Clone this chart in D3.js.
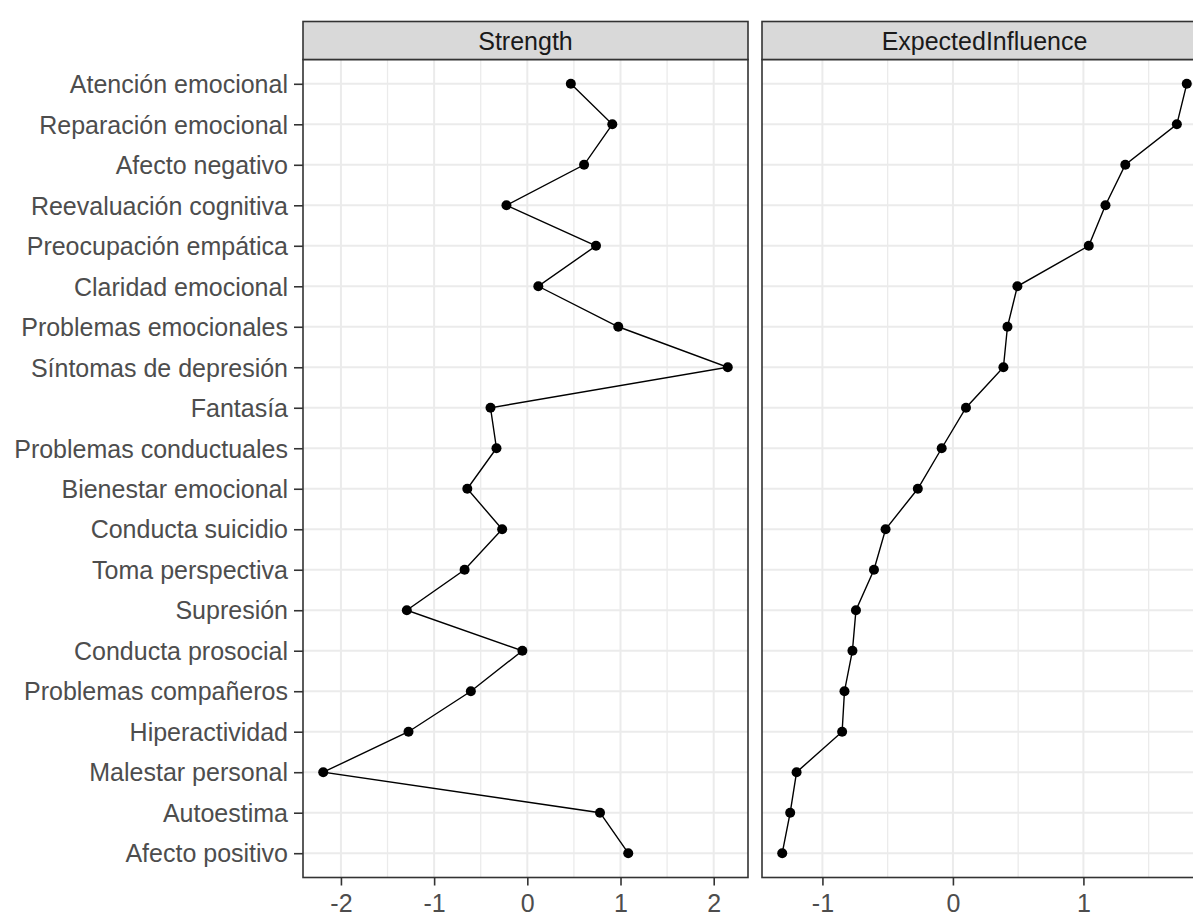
<!DOCTYPE html>
<html>
<head>
<meta charset="utf-8">
<script src="https://cdn.jsdelivr.net/npm/d3@7"></script>
<style>
  html, body { margin: 0; padding: 0; background: #fff; }
  svg { display: block; }
</style>
</head>
<body>
<svg id="chart" width="1193" height="916"></svg>
<script>
// ---- data ----
const categories = [
  "Atención emocional", "Reparación emocional", "Afecto negativo", "Reevaluación cognitiva",
  "Preocupación empática", "Claridad emocional", "Problemas emocionales", "Síntomas de depresión",
  "Fantasía", "Problemas conductuales", "Bienestar emocional", "Conducta suicidio",
  "Toma perspectiva", "Supresión", "Conducta prosocial", "Problemas compañeros",
  "Hiperactividad", "Malestar personal", "Autoestima", "Afecto positivo"
];
const strengthValues = [
  0.467, 0.912, 0.609, -0.224, 0.737, 0.118, 0.976, 2.151,
  -0.395, -0.331, -0.644, -0.270, -0.673, -1.293, -0.053, -0.606,
  -1.275, -2.190, 0.780, 1.083
];
const expectedInfluenceValues = [
  1.792, 1.716, 1.321, 1.169, 1.041, 0.494, 0.418, 0.387,
  0.100, -0.086, -0.269, -0.516, -0.605, -0.743, -0.770, -0.831,
  -0.849, -1.198, -1.247, -1.308
];
const panelNames = ["Strength", "ExpectedInfluence"];
const panelSeries = [strengthValues, expectedInfluenceValues];

// ---- layout ----
const svg = d3.select("#chart");
const font = "'Liberation Sans', Arial, sans-serif";
const fontSize = 25;
const panelTop = 59.5, panelBottom = 877.5;
const stripTop = 21.5;
const panelX = [303, 762];
const panelW = 445;

const y = d3.scalePoint().domain(categories).range([panelTop, panelBottom]).padding(0.6);

panelNames.forEach((name, pi) => {
  const vals = panelSeries[pi];
  const lo = d3.min(vals), hi = d3.max(vals);
  const ex = (hi - lo) * 0.05;
  const x = d3.scaleLinear().domain([lo - ex, hi + ex]).range([panelX[pi], panelX[pi] + panelW]);
  const [d0, d1] = x.domain();
  const majors = d3.range(Math.ceil(d0), Math.floor(d1) + 1);
  const minors = d3.range(Math.ceil(d0 * 2), Math.floor(d1 * 2) + 1).map(v => v / 2).filter(v => !Number.isInteger(v));

  const g = svg.append("g");
  g.append("rect").attr("x", panelX[pi]).attr("y", panelTop).attr("width", panelW)
    .attr("height", panelBottom - panelTop).attr("fill", "#fff");
  g.selectAll(".minor").data(minors).enter().append("line")
    .attr("x1", d => x(d)).attr("x2", d => x(d)).attr("y1", panelTop).attr("y2", panelBottom)
    .attr("stroke", "#EBEBEB").attr("stroke-width", 1.3);
  g.selectAll(".majorx").data(majors).enter().append("line")
    .attr("x1", d => x(d)).attr("x2", d => x(d)).attr("y1", panelTop).attr("y2", panelBottom)
    .attr("stroke", "#EBEBEB").attr("stroke-width", 2);
  g.selectAll(".majory").data(categories).enter().append("line")
    .attr("x1", panelX[pi]).attr("x2", panelX[pi] + panelW).attr("y1", d => y(d)).attr("y2", d => y(d))
    .attr("stroke", "#EBEBEB").attr("stroke-width", 2);

  const pts = categories.map((c, i) => ({ c, v: vals[i] }));
  g.append("path").datum(pts)
    .attr("d", d3.line().x(d => x(d.v)).y(d => y(d.c)))
    .attr("fill", "none").attr("stroke", "#000").attr("stroke-width", 1.4);
  g.selectAll(".pt").data(pts).enter().append("circle")
    .attr("cx", d => x(d.v)).attr("cy", d => y(d.c)).attr("r", 5).attr("fill", "#000");

  g.append("rect").attr("x", panelX[pi]).attr("y", panelTop).attr("width", panelW)
    .attr("height", panelBottom - panelTop).attr("fill", "none").attr("stroke", "#333333").attr("stroke-width", 1.6);

  g.append("rect").attr("x", panelX[pi]).attr("y", stripTop).attr("width", panelW)
    .attr("height", panelTop - stripTop).attr("fill", "#D9D9D9").attr("stroke", "#333333").attr("stroke-width", 1.6);
  g.append("text").attr("x", panelX[pi] + panelW / 2).attr("y", (stripTop + panelTop) / 2)
    .attr("dy", "0.36em").attr("text-anchor", "middle")
    .attr("font-family", font).attr("font-size", fontSize).attr("fill", "#1A1A1A").text(name);

  const xa = svg.append("g").attr("transform", `translate(0,${panelBottom})`)
    .call(d3.axisBottom(x).tickValues(majors).tickFormat(d => String(d)).tickSize(8).tickPadding(9));
  xa.select(".domain").remove();
  xa.selectAll("line").attr("stroke", "#333333").attr("stroke-width", 1.6);
  xa.selectAll("text").attr("font-family", font).attr("font-size", fontSize).attr("fill", "#4D4D4D");

  if (pi === 0) {
    const ya = svg.append("g").attr("transform", `translate(${panelX[0]},0)`)
      .call(d3.axisLeft(y).tickSize(9).tickPadding(6));
    ya.select(".domain").remove();
    ya.selectAll("line").attr("stroke", "#333333").attr("stroke-width", 1.6);
    ya.selectAll("text").attr("font-family", font).attr("font-size", fontSize).attr("fill", "#4D4D4D").attr("dy", "0.35em");
  }
});
</script>
</body>
</html>
